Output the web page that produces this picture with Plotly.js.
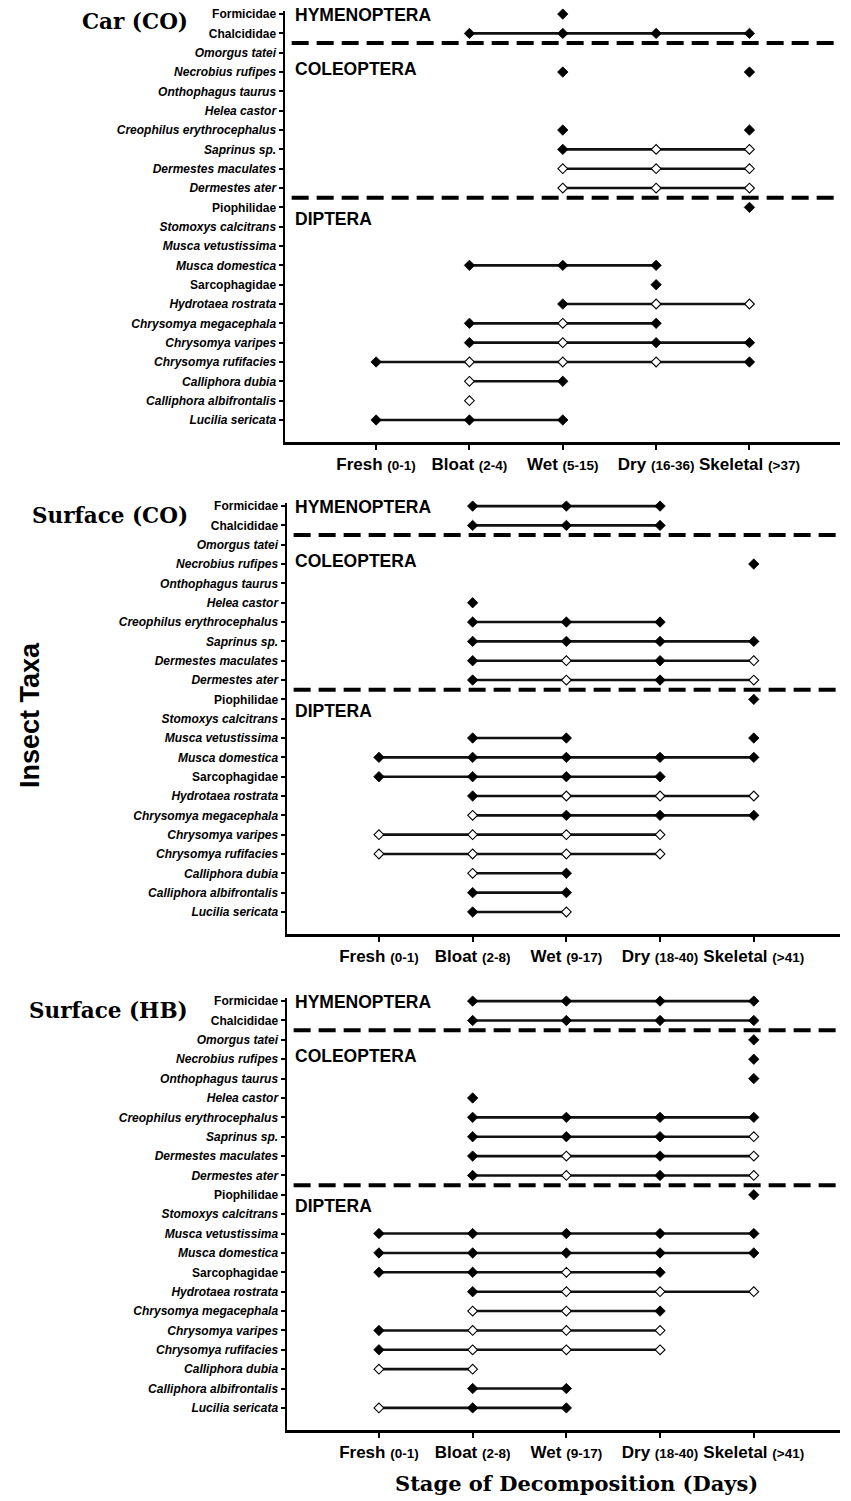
<!DOCTYPE html>
<html><head><meta charset="utf-8">
<script src="https://cdn.plot.ly/plotly-3.0.1.min.js"></script>
<style>html,body{margin:0;padding:0;background:#fff}</style>
</head><body><div id="chart" style="width:851px;height:1501px"></div>
<script>
// ---- data ----
const taxa = ["Formicidae","Chalcididae","<i>Omorgus tatei</i>","<i>Necrobius rufipes</i>","<i>Onthophagus taurus</i>","<i>Helea castor</i>","<i>Creophilus erythrocephalus</i>","<i>Saprinus sp.</i>","<i>Dermestes maculates</i>","<i>Dermestes ater</i>","Piophilidae","<i>Stomoxys calcitrans</i>","<i>Musca vetustissima</i>","<i>Musca domestica</i>","Sarcophagidae","<i>Hydrotaea rostrata</i>","<i>Chrysomya megacephala</i>","<i>Chrysomya varipes</i>","<i>Chrysomya rufifacies</i>","<i>Calliphora dubia</i>","<i>Calliphora albifrontalis</i>","<i>Lucilia sericata</i>"];
const stages = ["Fresh","Bloat","Wet","Dry","Skeletal"];
const daysCar = ["(0-1)","(2-4)","(5-15)","(16-36)","(&gt;37)"];
const daysSurface = ["(0-1)","(2-8)","(9-17)","(18-40)","(&gt;41)"];
const panelTitles = ["Car (CO)","Surface (CO)","Surface (HB)"];
const orders = ["HYMENOPTERA","COLEOPTERA","DIPTERA"];
// 0 = absent, 1 = filled diamond, 2 = open diamond; columns = stages
const carCO = [
 [0,0,1,0,0],[0,1,1,1,1],[0,0,0,0,0],[0,0,1,0,1],[0,0,0,0,0],[0,0,0,0,0],
 [0,0,1,0,1],[0,0,1,2,2],[0,0,2,2,2],[0,0,2,2,2],[0,0,0,0,1],[0,0,0,0,0],
 [0,0,0,0,0],[0,1,1,1,0],[0,0,0,1,0],[0,0,1,2,2],[0,1,2,1,0],[0,1,2,1,1],
 [1,2,2,2,1],[0,2,1,0,0],[0,2,0,0,0],[1,1,1,0,0]];
const surfaceCO = [
 [0,1,1,1,0],[0,1,1,1,0],[0,0,0,0,0],[0,0,0,0,1],[0,0,0,0,0],[0,1,0,0,0],
 [0,1,1,1,0],[0,1,1,1,1],[0,1,2,1,2],[0,1,2,1,2],[0,0,0,0,1],[0,0,0,0,0],
 [0,1,1,0,1],[1,1,1,1,1],[1,1,1,1,0],[0,1,2,2,2],[0,2,1,1,1],[2,2,2,2,0],
 [2,2,2,2,0],[0,2,1,0,0],[0,1,1,0,0],[0,1,2,0,0]];
const surfaceHB = [
 [0,1,1,1,1],[0,1,1,1,1],[0,0,0,0,1],[0,0,0,0,1],[0,0,0,0,1],[0,1,0,0,0],
 [0,1,1,1,1],[0,1,1,1,2],[0,1,2,1,2],[0,1,2,1,2],[0,0,0,0,1],[0,0,0,0,0],
 [1,1,1,1,1],[1,1,1,1,1],[1,1,2,1,0],[0,1,2,2,2],[0,2,2,1,0],[1,2,2,2,0],
 [1,2,2,2,0],[2,2,0,0,0],[0,1,1,0,0],[2,1,1,0,0]];

// ---- build ----
const W = 851, H = 1501;
const px = v => v / W, py = v => (H - v) / H;
const panels = [
  {m: carCO, days: daysCar, dom:[285,840], rng:[0.024,5.97], ytop:11, ybot:442, titleY:22},
  {m: surfaceCO, days: daysSurface, dom:[287,840], rng:[0.019,5.92], ytop:503, ybot:934, titleY:515},
  {m: surfaceHB, days: daysSurface, dom:[287,840], rng:[0.019,5.92], ytop:998, ybot:1430, titleY:1010}
];
const traces = [], layout = {
  width: W, height: H, margin:{l:0,r:0,t:0,b:0},
  paper_bgcolor:'#fff', plot_bgcolor:'#fff', showlegend:false,
  annotations:[], shapes:[]
};
const tickFontX = {family:'Liberation Sans, Arial, sans-serif', size:17, color:'#000', weight:'bold'};
const tickFontY = {family:'Liberation Sans, Arial, sans-serif', size:12, color:'#000', weight:'bold'};
const rows = taxa.map((_, i) => i);

panels.forEach((p, k) => {
  const n = k === 0 ? '' : String(k + 1);
  const xa = 'x' + n, ya = 'y' + n;
  const lx=[], ly=[], fx=[], fy=[], ox=[], oy=[];
  p.m.forEach((row, i) => {
    row.forEach((v, j) => {
      if (!v) return;
      if (v === 1) { fx.push(j + 1); fy.push(i); } else { ox.push(j + 1); oy.push(i); }
      if (j + 1 < row.length && row[j + 1]) { lx.push(j + 1, j + 2, null); ly.push(i, i, null); }
    });
  });
  traces.push({x:lx, y:ly, xaxis:xa, yaxis:ya, type:'scatter', mode:'lines', cliponaxis:false,
    line:{color:'#111', width:2.6}, connectgaps:false, hoverinfo:'skip'});
  traces.push({x:fx, y:fy, xaxis:xa, yaxis:ya, type:'scatter', mode:'markers', cliponaxis:false,
    marker:{symbol:'diamond', size:8, color:'#000', line:{color:'#000', width:0.8}}, hoverinfo:'skip'});
  traces.push({x:ox, y:oy, xaxis:xa, yaxis:ya, type:'scatter', mode:'markers', cliponaxis:false,
    marker:{symbol:'diamond', size:7.5, color:'#fff', line:{color:'#000', width:1.1}}, hoverinfo:'skip'});

  layout['xaxis' + n] = {
    domain:[px(p.dom[0]), px(p.dom[1])], range:p.rng, anchor:ya,
    tickvals:[1,2,3,4,5],
    ticktext: stages.map((s, j) => s + ' <span style="font-size:13.5px">' + p.days[j] + '</span>'),
    tickangle:0, ticks:'outside', ticklen:5, tickwidth:2, tickcolor:'#000',
    showline:true, linewidth:2.5, linecolor:'#000', mirror:false,
    showgrid:false, zeroline:false, tickfont:tickFontX, fixedrange:true
  };
  layout['yaxis' + n] = {
    domain:[py(p.ybot), py(p.ytop)], range:[22.14, -0.16], anchor:xa,
    tickvals:rows, ticktext:taxa,
    ticks:'outside', ticklen:4, tickwidth:2, tickcolor:'#000',
    showline:true, linewidth:2.5, linecolor:'#000',
    showgrid:false, zeroline:false, tickfont:tickFontY, fixedrange:true
  };
  // separators between orders
  [1.5, 9.5].forEach(yv => layout.shapes.push({
    type:'line', xref: xa + ' domain', yref: ya, x0:0.012, x1:1, y0:yv, y1:yv,
    line:{color:'#000', width:4, dash:'17px,8px'}
  }));
  // order labels
  [[orders[0], 0.05], [orders[1], 2.85], [orders[2], 10.6]].forEach(([t, yv]) => layout.annotations.push({
    text:t, xref:'paper', yref:ya, x:px(293), y:yv, xanchor:'left', yanchor:'middle',
    showarrow:false, font:{family:'Liberation Sans, Arial, sans-serif', size:17.5, color:'#000', weight:'bold'}
  }));
  // panel title
  layout.annotations.push({
    text:panelTitles[k], xref:'paper', yref:'paper', x:px(190), y:py(p.titleY),
    xanchor:'right', yanchor:'middle', showarrow:false,
    font:{family:'DejaVu Serif, serif', size:21.5, color:'#000', weight:'bold'}
  });
});

layout.annotations.push({
  text:'Insect Taxa', xref:'paper', yref:'paper', x:px(30), y:py(715),
  xanchor:'center', yanchor:'middle', textangle:-90, showarrow:false,
  font:{family:'Liberation Sans, Arial, sans-serif', size:27, color:'#000', weight:'bold'}
});
layout.annotations.push({
  text:'Stage of Decomposition (Days)', xref:'paper', yref:'paper', x:px(576), y:py(1483),
  xanchor:'center', yanchor:'middle', showarrow:false,
  font:{family:'DejaVu Serif, serif', size:21, color:'#000', weight:'bold'}
});

Plotly.newPlot('chart', traces, layout, {staticPlot:true, displayModeBar:false});
</script>
</body></html>
